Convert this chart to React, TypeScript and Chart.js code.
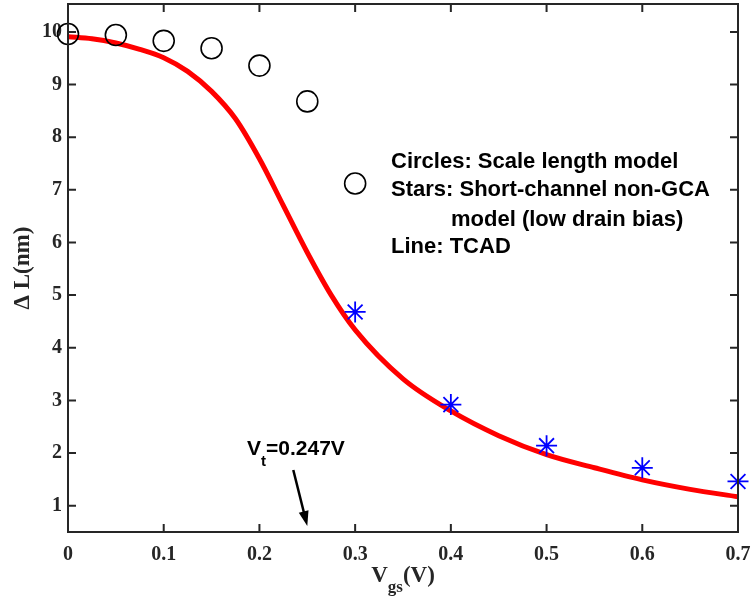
import React, { useEffect, useRef } from "react";
import { Chart, registerables } from "chart.js";
Chart.register(...registerables);

const xTicks = [0, 0.1, 0.2, 0.3, 0.4, 0.5, 0.6, 0.7];
const yTicks = [1, 2, 3, 4, 5, 6, 7, 8, 9, 10];

const circleX = [0, 0.05, 0.1, 0.15, 0.2, 0.25, 0.3];
const circleY = [9.96, 9.94, 9.83, 9.69, 9.36, 8.68, 7.12];

const starX = [0.3, 0.4, 0.5, 0.6, 0.7];
const starY = [4.68, 2.92, 2.14, 1.72, 1.46];

const tcadX = [0, 0.025, 0.05, 0.075, 0.1, 0.125, 0.15, 0.175, 0.2, 0.225, 0.25, 0.275, 0.3, 0.35, 0.4, 0.45, 0.5, 0.55, 0.6, 0.65, 0.7];
const tcadY = [9.91, 9.87, 9.79, 9.67, 9.51, 9.25, 8.87, 8.35, 7.59, 6.7, 5.81, 5.0, 4.34, 3.41, 2.8, 2.33, 1.97, 1.72, 1.49, 1.31, 1.17];

const noteLines = [
  "Circles: Scale length model",
  "Stars: Short-channel non-GCA",
  "model (low drain bias)",
  "Line: TCAD",
];
const vtLabel = { main: "V", sub: "t", rest: "=0.247V" };
const vtValue = 0.25;
const xTitle = { main: "V", sub: "gs", rest: "(V)" };
const yTitle = "\u0394 L(nm)";

const AXIS = "#262626";
const SERIF = "'Liberation Serif', 'Times New Roman', serif";
const SANS = "'Liberation Sans', Arial, Helvetica, sans-serif";

const decor = {
  id: "decor",
  afterDatasetsDraw(chart: any) {
    const ctx = chart.ctx;
    const a = chart.chartArea;
    const xs = chart.scales.x;
    const ys = chart.scales.y;
    ctx.save();
    // frame
    ctx.strokeStyle = AXIS;
    ctx.lineWidth = 2;
    ctx.strokeRect(a.left, a.top, a.right - a.left, a.bottom - a.top);
    // inward ticks
    const tl = 8;
    ctx.beginPath();
    xTicks.forEach((v) => {
      const px = xs.getPixelForValue(v);
      ctx.moveTo(px, a.bottom);
      ctx.lineTo(px, a.bottom - tl);
      ctx.moveTo(px, a.top);
      ctx.lineTo(px, a.top + tl);
    });
    yTicks.forEach((v) => {
      const py = ys.getPixelForValue(v);
      ctx.moveTo(a.left, py);
      ctx.lineTo(a.left + tl, py);
      ctx.moveTo(a.right, py);
      ctx.lineTo(a.right - tl, py);
    });
    ctx.stroke();

    // notes
    ctx.fillStyle = "#000";
    ctx.font = `bold 22px ${SANS}`;
    ctx.textBaseline = "alphabetic";
    ctx.textAlign = "left";
    const nx = 391;
    const bases = [168, 196, 226, 253];
    noteLines.forEach((t, i) => {
      ctx.fillText(t, i === 2 ? nx + 60 : nx, bases[i]);
    });

    // Vt label
    let vx = 247;
    const vb = 455;
    ctx.font = `bold 21px ${SANS}`;
    ctx.fillText(vtLabel.main, vx, vb);
    vx += ctx.measureText(vtLabel.main).width;
    ctx.font = `bold 15px ${SANS}`;
    ctx.fillText(vtLabel.sub, vx, vb + 11);
    vx += ctx.measureText(vtLabel.sub).width;
    ctx.font = `bold 21px ${SANS}`;
    ctx.fillText(vtLabel.rest, vx, vb);

    // arrow
    const tipX = xs.getPixelForValue(vtValue);
    const tipY = a.bottom - 6;
    const tailX = tipX - 14;
    const tailY = tipY - 56;
    const ang = Math.atan2(tipY - tailY, tipX - tailX);
    ctx.strokeStyle = "#000";
    ctx.lineWidth = 2.5;
    ctx.beginPath();
    ctx.moveTo(tailX, tailY);
    ctx.lineTo(tipX - 10 * Math.cos(ang), tipY - 10 * Math.sin(ang));
    ctx.stroke();
    ctx.beginPath();
    ctx.moveTo(tipX, tipY);
    ctx.lineTo(tipX - 15 * Math.cos(ang) + 5 * Math.sin(ang), tipY - 15 * Math.sin(ang) - 5 * Math.cos(ang));
    ctx.lineTo(tipX - 15 * Math.cos(ang) - 5 * Math.sin(ang), tipY - 15 * Math.sin(ang) + 5 * Math.cos(ang));
    ctx.closePath();
    ctx.fillStyle = "#000";
    ctx.fill();

    // x title
    ctx.fillStyle = AXIS;
    const mainF = `bold 23px ${SERIF}`;
    const subF = `bold 17px ${SERIF}`;
    ctx.font = mainF;
    const w1 = ctx.measureText(xTitle.main).width;
    const w3 = ctx.measureText(xTitle.rest).width;
    ctx.font = subF;
    const w2 = ctx.measureText(xTitle.sub).width;
    let tx = (a.left + a.right) / 2 - (w1 + w2 + w3) / 2;
    const tb = 582;
    ctx.font = mainF;
    ctx.fillText(xTitle.main, tx, tb);
    tx += w1;
    ctx.font = subF;
    ctx.fillText(xTitle.sub, tx, tb + 10);
    tx += w2;
    ctx.font = mainF;
    ctx.fillText(xTitle.rest, tx, tb);

    // y title
    ctx.save();
    ctx.translate(29, (a.top + a.bottom) / 2);
    ctx.rotate(-Math.PI / 2);
    ctx.textAlign = "center";
    ctx.font = mainF;
    ctx.fillText(yTitle, 0, 0);
    ctx.restore();

    ctx.restore();
  },
};

const zeroPad = (s: any) => {
  s.paddingLeft = 0;
  s.paddingRight = 0;
  s.paddingTop = 0;
  s.paddingBottom = 0;
};

export default function App() {
  const ref = useRef<HTMLCanvasElement | null>(null);
  useEffect(() => {
    if (!ref.current) return;
    const chart = new Chart(ref.current, {
      type: "line",
      data: {
        datasets: [
          {
            label: "TCAD",
            data: tcadX.map((x, i) => ({ x, y: tcadY[i] })),
            borderColor: "#ff0000",
            borderWidth: 5,
            pointRadius: 0,
            cubicInterpolationMode: "monotone",
            fill: false,
            clip: false,
            order: 2,
          },
          {
            label: "Circles",
            data: circleX.map((x, i) => ({ x, y: circleY[i] })),
            showLine: false,
            pointStyle: "circle",
            pointRadius: 10.5,
            borderColor: "#000",
            backgroundColor: "rgba(0,0,0,0)",
            pointBorderWidth: 1.6,
            clip: false,
            order: 1,
          },
          {
            label: "Stars",
            data: starX.map((x, i) => ({ x, y: starY[i] })),
            showLine: false,
            pointStyle: "star",
            pointRadius: 10.5,
            borderColor: "#0000ff",
            backgroundColor: "#0000ff",
            pointBorderWidth: 1.8,
            clip: false,
            order: 0,
          },
        ],
      },
      options: {
        animation: false,
        responsive: false,
        events: [],
        layout: { autoPadding: false, padding: { top: 4, right: 17, left: 0, bottom: 0 } },
        plugins: { legend: { display: false }, tooltip: { enabled: false }, title: { display: false } },
        scales: {
          x: {
            type: "linear",
            min: 0,
            max: 0.7,
            afterFit: (s: any) => {
              s.height = 73;
              zeroPad(s);
            },
            afterBuildTicks: (s: any) => {
              s.ticks = xTicks.map((v) => ({ value: v }));
            },
            grid: { display: false, drawTicks: false },
            border: { display: false },
            ticks: {
              padding: 11,
              color: AXIS,
              font: { family: SERIF, size: 20, weight: "bold" },
              maxRotation: 0,
              autoSkip: false,
              callback: (v: any) => String(Number(Number(v).toFixed(1))),
            },
          },
          y: {
            type: "linear",
            min: 0.5,
            max: 10.53,
            afterFit: (s: any) => {
              s.width = 68;
              zeroPad(s);
            },
            afterBuildTicks: (s: any) => {
              s.ticks = yTicks.map((v) => ({ value: v }));
            },
            grid: { display: false, drawTicks: false },
            border: { display: false },
            ticks: {
              padding: 6,
              color: AXIS,
              font: { family: SERIF, size: 20, weight: "bold" },
              autoSkip: false,
              callback: (v: any) => String(v),
            },
          },
        },
      },
      plugins: [decor],
    } as any);
    return () => chart.destroy();
  }, []);
  return (
    <div style={{ position: "fixed", left: 0, top: 0, width: 755, height: 605, background: "#fff" }}>
      <canvas ref={ref} width={755} height={605} style={{ width: 755, height: 605 }} />
    </div>
  );
}
